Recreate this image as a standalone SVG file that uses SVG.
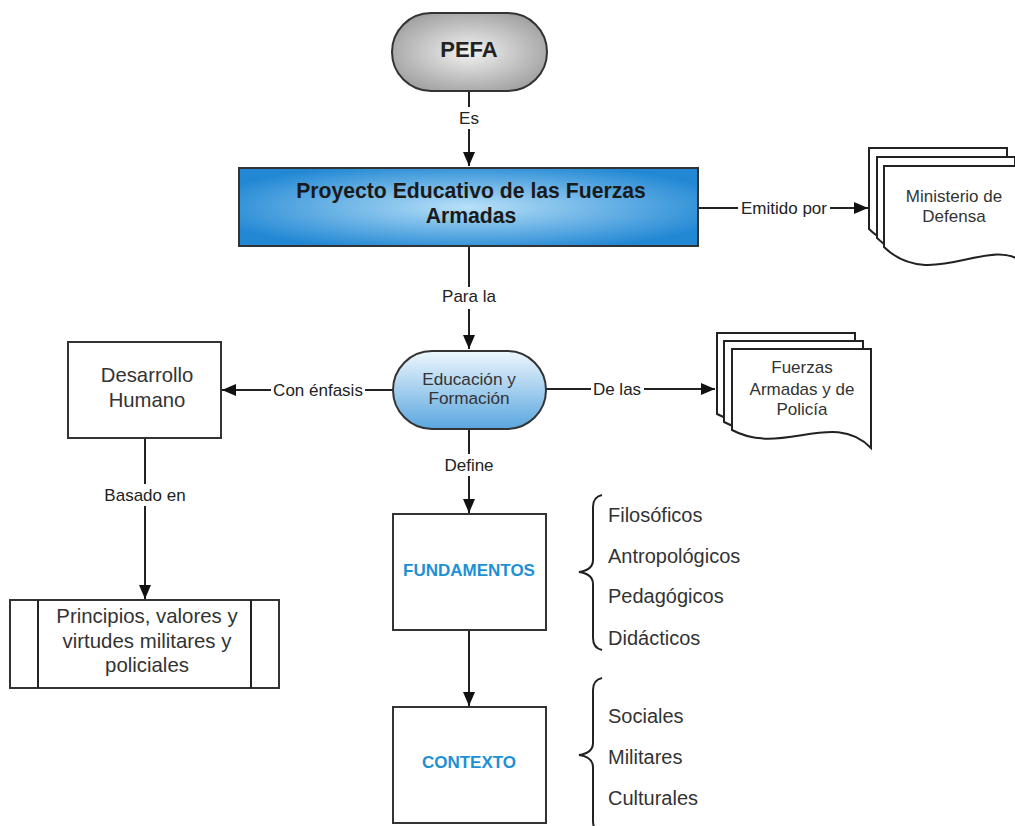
<svg xmlns="http://www.w3.org/2000/svg" width="1015" height="826" viewBox="0 0 1015 826">
<defs>
<radialGradient id="gGray" cx="50%" cy="50%" r="60%">
<stop offset="0" stop-color="#f2f2f2"/>
<stop offset="1" stop-color="#9c9c9c"/>
</radialGradient>
<radialGradient id="gBlue" cx="50%" cy="50%" r="58%">
<stop offset="0" stop-color="#b8e0f8"/>
<stop offset="1" stop-color="#2288d4"/>
</radialGradient>
<linearGradient id="gEdu" x1="0" y1="0" x2="0" y2="1">
<stop offset="0" stop-color="#eef7fd"/>
<stop offset="1" stop-color="#5aa6df"/>
</linearGradient>
<marker id="arr" markerUnits="userSpaceOnUse" markerWidth="14" markerHeight="12" refX="14" refY="6" orient="auto">
<path d="M0,0 L14,6 L0,12 z" fill="#111"/>
</marker>
</defs>
<style>
.ln{stroke:#222;stroke-width:2;fill:none}
.box{stroke:#333;stroke-width:2;fill:#fff}
.doc{stroke:#222;stroke-width:2;fill:#fff}
.t{font-family:"Liberation Sans",Arial,sans-serif;fill:#333;text-anchor:middle}
.lbl{font-family:"Liberation Sans",Arial,sans-serif;fill:#222;text-anchor:middle;font-size:17px}
.lb{fill:#fff}
.b{font-weight:bold}
.blue{fill:#1e90d4;font-weight:bold;font-size:17px}
.item{font-family:"Liberation Sans",Arial,sans-serif;fill:#333;font-size:20px}
</style>
<rect width="1015" height="826" fill="#fff"/>

<g id="connectors">
<line class="ln" x1="469" y1="91" x2="469" y2="166" marker-end="url(#arr)"/>
<rect class="lb" x="457" y="107" width="24" height="22"/>
<text class="lbl" x="469" y="124">Es</text>

<line class="ln" x1="698" y1="208" x2="868" y2="208" marker-end="url(#arr)"/>
<rect class="lb" x="738" y="198" width="92" height="20"/>
<text class="lbl" x="784" y="214">Emitido por</text>

<line class="ln" x1="469" y1="246" x2="469" y2="349" marker-end="url(#arr)"/>
<rect class="lb" x="439" y="287" width="60" height="22"/>
<text class="lbl" x="469" y="302">Para la</text>

<line class="ln" x1="546" y1="389" x2="715" y2="389" marker-end="url(#arr)"/>
<rect class="lb" x="591" y="379" width="53" height="20"/>
<text class="lbl" x="617" y="395">De las</text>

<line class="ln" x1="393" y1="390" x2="222" y2="390" marker-end="url(#arr)"/>
<rect class="lb" x="271" y="380" width="94" height="20"/>
<text class="lbl" x="318" y="396">Con énfasis</text>

<line class="ln" x1="145" y1="438" x2="145" y2="599" marker-end="url(#arr)"/>
<rect class="lb" x="99" y="484" width="92" height="22"/>
<text class="lbl" x="145" y="501">Basado en</text>

<line class="ln" x1="469" y1="429" x2="469" y2="513" marker-end="url(#arr)"/>
<rect class="lb" x="439" y="454" width="60" height="22"/>
<text class="lbl" x="469" y="471">Define</text>

<line class="ln" x1="469" y1="630" x2="469" y2="706" marker-end="url(#arr)"/>
</g>

<g id="pefa">
<rect x="392" y="13" width="155" height="78" rx="39" ry="39" fill="url(#gGray)" stroke="#333" stroke-width="2"/>
<text class="t b" x="469" y="57" font-size="22" style="fill:#222">PEFA</text>
</g>

<g id="proyecto">
<rect x="239" y="168" width="459" height="78" fill="url(#gBlue)" stroke="#333" stroke-width="2"/>
<text class="t b" x="471" y="198" font-size="21.2" style="fill:#1a1a1a">Proyecto Educativo de las Fuerzas</text>
<text class="t b" x="471" y="223" font-size="21.2" style="fill:#1a1a1a">Armadas</text>
</g>

<g id="ministerio">
<path class="doc" d="M869,148 H1007 V244 C975,217 915,274 869,229 Z"/>
<path class="doc" d="M877,157 H1015 V253 C983,226 923,283 877,238 Z"/>
<path class="doc" d="M884,166 H1022 V262 C990,235 930,292 884,247 Z"/>
<text class="t" x="954" y="202" font-size="17">Ministerio de</text>
<text class="t" x="954" y="222" font-size="17">Defensa</text>
</g>

<g id="educacion">
<rect x="393" y="351" width="153" height="78" rx="39" ry="39" fill="url(#gEdu)" stroke="#333" stroke-width="2"/>
<text class="t" x="469" y="385" font-size="17.2">Educación y</text>
<text class="t" x="469" y="404" font-size="17.2">Formación</text>
</g>

<g id="fuerzas">
<path class="doc" d="M717,333 H855 V432 C817,393 767,441 717,414 Z"/>
<path class="doc" d="M724,341 H863 V440 C825,401 774,449 724,422 Z"/>
<path class="doc" d="M732,349 H871 V448 C833,409 782,457 732,430 Z"/>
<text class="t" x="802" y="373" font-size="17">Fuerzas</text>
<text class="t" x="802" y="395" font-size="17">Armadas y de</text>
<text class="t" x="802" y="415" font-size="17">Policía</text>
</g>

<g id="desarrollo">
<rect class="box" x="68" y="342" width="153" height="96"/>
<text class="t" x="147" y="382" font-size="20.3">Desarrollo</text>
<text class="t" x="147" y="407" font-size="20.3">Humano</text>
</g>

<g id="principios">
<rect class="box" x="10" y="600" width="269" height="88"/>
<line class="ln" x1="38" y1="600" x2="38" y2="688"/>
<line class="ln" x1="251" y1="600" x2="251" y2="688"/>
<text class="t" x="147" y="623" font-size="20.4">Principios, valores y</text>
<text class="t" x="147" y="648" font-size="20.4">virtudes militares y</text>
<text class="t" x="147" y="672" font-size="20.4">policiales</text>
</g>

<g id="fundamentos">
<rect class="box" x="393" y="514" width="153" height="116"/>
<text class="t blue" x="469" y="576">FUNDAMENTOS</text>
</g>

<g id="fundamentos-items">
<path class="ln" d="M602,495 Q593,497 593,507 V560 Q593,570 579,572 Q593,574 593,584 V638 Q593,648 602,650"/>
<text class="item" x="608" y="522">Filosóficos</text>
<text class="item" x="608" y="563">Antropológicos</text>
<text class="item" x="608" y="603">Pedagógicos</text>
<text class="item" x="608" y="645">Didácticos</text>
</g>

<g id="contexto">
<rect class="box" x="393" y="707" width="153" height="116"/>
<text class="t blue" x="469" y="768">CONTEXTO</text>
</g>

<g id="contexto-items">
<path class="ln" d="M602,678 Q593,680 593,690 V743 Q593,753 579,755 Q593,757 593,767 V821 Q593,831 602,833"/>
<text class="item" x="608" y="723">Sociales</text>
<text class="item" x="608" y="764">Militares</text>
<text class="item" x="608" y="805">Culturales</text>
</g>
</svg>
